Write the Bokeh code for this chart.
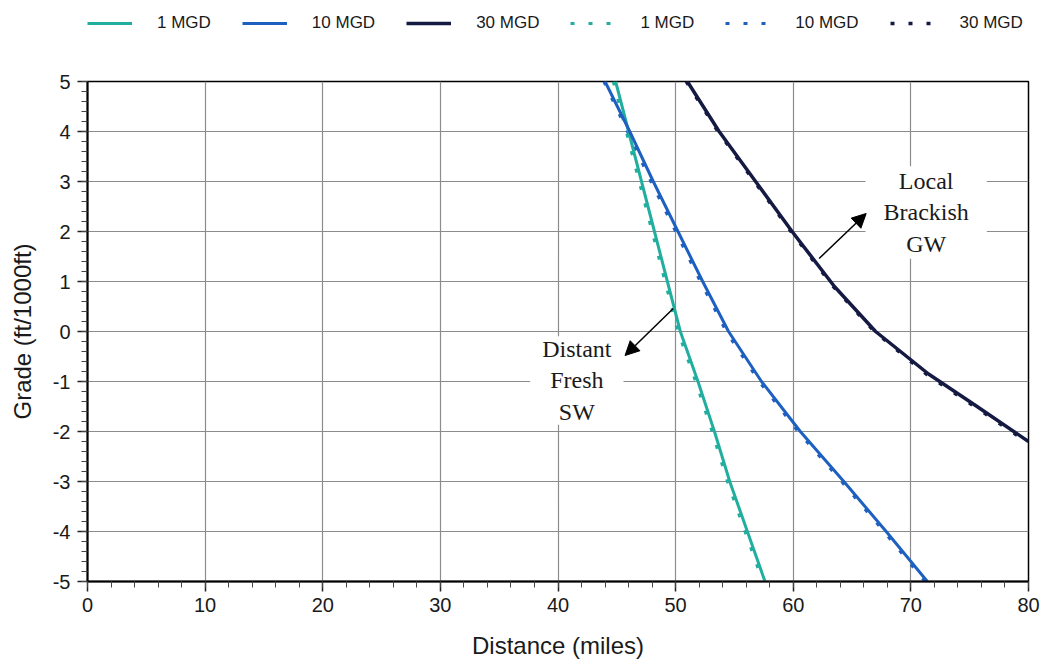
from bokeh.plotting import figure
from bokeh.layouts import column
from bokeh.models import Legend, LegendItem, Label, Arrow, NormalHead, FixedTicker
from bokeh.embed import file_html
from bokeh.resources import INLINE

# ---- data ----
grade = [5, 4, 3, 2, 1, 0, -1, -2, -3, -4, -5]

dist_1mgd_a = [44.9, 46.0, 47.1, 48.2, 49.3, 50.4, 51.9, 53.3, 54.6, 56.1, 57.6]
dist_1mgd_b = [44.7, 45.8, 46.9, 48.0, 49.1, 50.2, 51.7, 53.1, 54.4, 55.9, 57.4]

dist_10mgd_a = [44.0, 46.1, 48.1, 50.2, 52.3, 54.5, 57.3, 60.6, 64.3, 67.9, 71.4]
dist_10mgd_b = [43.9, 45.9, 47.9, 50.0, 52.1, 54.3, 57.1, 60.4, 64.1, 67.7, 71.2]

dist_30mgd_a = [51.0, 53.7, 56.8, 59.9, 63.5, 67.0, 71.5, 75.5, 80.0]
grade_30mgd_a = [5.0, 4.0, 3.0, 2.0, 0.9, 0.0, -0.85, -1.48, -2.2]
dist_30mgd_b = [50.9, 53.6, 56.7, 59.8, 63.4, 66.9, 71.4, 75.4, 80.0]
grade_30mgd_b = [5.0, 4.0, 3.0, 2.0, 0.9, 0.0, -0.87, -1.5, -2.23]

series_labels = ["1 MGD", "10 MGD", "30 MGD", "1 MGD", "10 MGD", "30 MGD"]

x_ticks = [0, 10, 20, 30, 40, 50, 60, 70, 80]
x_minor = [v for v in range(0, 81, 2)]
y_ticks = [-5, -4, -3, -2, -1, 0, 1, 2, 3, 4, 5]
y_tick_labels = ["-5", "-4", "-3", "-2", "-1", "0", "1", "2", "3", "4", "5"]
y_minor = [round(-5 + 0.2 * k, 1) for k in range(51)]

C1 = "#22ae9f"
C10 = "#1d60c0"
C30 = "#151a42"
TXT = "#1a1a1a"
DASH = "4 14"

series = [
    (dist_1mgd_a, grade, C1, 3, "solid"),
    (dist_10mgd_a, grade, C10, 3, "solid"),
    (dist_30mgd_a, grade_30mgd_a, C30, 3.5, "solid"),
    (dist_1mgd_b, grade, C1, 3, DASH),
    (dist_10mgd_b, grade, C10, 3, DASH),
    (dist_30mgd_b, grade_30mgd_b, C30, 3.5, DASH),
]

# ---------------- main chart ----------------
p = figure(width=1048, height=614, x_range=(0, 80), y_range=(-5, 5),
           output_backend="svg", toolbar_location=None,
           min_border_left=87, min_border_right=20,
           min_border_top=31, min_border_bottom=83)
p.background_fill_color = "white"
p.border_fill_color = "white"
p.outline_line_color = "black"
p.outline_line_width = 1.5

p.xaxis.ticker = FixedTicker(ticks=x_ticks, minor_ticks=x_minor)
p.yaxis.ticker = FixedTicker(ticks=y_ticks, minor_ticks=y_minor)
p.yaxis.major_label_overrides = {t: s for t, s in zip(y_ticks, y_tick_labels)}
for ax in (p.xaxis, p.yaxis):
    ax.axis_line_color = "black"
    ax.axis_line_width = 2
    ax.major_tick_out = 10
    ax.major_tick_in = 0
    ax.minor_tick_out = 6
    ax.minor_tick_in = 0
    ax.major_tick_line_color = "#222222"
    ax.minor_tick_line_color = "#444444"
    ax.major_tick_line_width = 1.5
    ax.major_label_text_font = "Liberation Sans"
    ax.major_label_text_font_size = "20px"
    ax.major_label_text_color = TXT
    ax.axis_label_text_font = "Liberation Sans"
    ax.axis_label_text_font_size = "24px"
    ax.axis_label_text_font_style = "normal"
    ax.axis_label_text_color = TXT
p.xaxis.axis_label = "Distance (miles)"
p.yaxis.axis_label = "Grade (ft/1000ft)"
p.xaxis.major_label_standoff = 6
p.yaxis.major_label_standoff = 7
p.xaxis.axis_label_standoff = 17
p.yaxis.axis_label_standoff = 14

p.grid.grid_line_color = "#8c8c8c"
p.grid.grid_line_width = 1.2
p.xgrid.ticker = FixedTicker(ticks=x_ticks)
p.ygrid.ticker = FixedTicker(ticks=y_ticks)

# dotted series first, solid series on top
for xs, ys, c, w, d in series[3:] + series[:3]:
    p.line(xs, ys, line_color=c, line_width=w, line_dash=d)

lab1 = Label(x=41.6, y=-0.98, text="Distant\nFresh\nSW", text_font="Liberation Serif",
             text_font_size="24px", text_align="center", text_baseline="middle",
             text_line_height=1.2, text_color=TXT,
             background_fill_color="white", padding=(12, 0))
lab2 = Label(x=71.3, y=2.38, text="Local\nBrackish\nGW", text_font="Liberation Serif",
             text_font_size="24px", text_align="center", text_baseline="middle",
             text_line_height=1.2, text_color=TXT,
             background_fill_color="white", padding=(18, 2))
p.add_layout(lab1)
p.add_layout(lab2)

p.add_layout(Arrow(end=NormalHead(size=14, fill_color="black", line_color="black"),
                   x_start=49.8, y_start=0.46, x_end=45.7, y_end=-0.48,
                   line_width=1.5, line_color="black"))
p.add_layout(Arrow(end=NormalHead(size=14, fill_color="black", line_color="black"),
                   x_start=62.2, y_start=1.46, x_end=66.2, y_end=2.36,
                   line_width=1.5, line_color="black"))

# ---------------- legend strip above the chart ----------------
# the same series, outside this strip's visible range: only their legend samples show
lg = figure(width=1048, height=50, x_range=(-100, -90), y_range=(-100, -90),
            output_backend="svg", toolbar_location=None,
            x_axis_type=None, y_axis_type=None,
            min_border_left=87, min_border_right=20,
            min_border_top=0, min_border_bottom=0)
lg.outline_line_color = None
lg.grid.visible = False
lg.background_fill_color = "white"
lg.border_fill_color = "white"

items = []
for label, (xs, ys, c, w, d) in zip(series_labels, series):
    r = lg.line(xs, ys, line_color=c, line_width=w, line_dash=d)
    items.append(LegendItem(label=label, renderers=[r]))

legend = Legend(items=items, orientation="horizontal", location=(0, 17),
                glyph_width=45, glyph_height=20, label_standoff=25, spacing=31,
                padding=0, margin=0, border_line_color=None, background_fill_alpha=0,
                label_text_font="Liberation Sans", label_text_font_size="17px",
                label_text_color=TXT)
lg.add_layout(legend, "center")

layout = column(lg, p, spacing=0)
open("out.html", "w").write(file_html(layout, INLINE))
